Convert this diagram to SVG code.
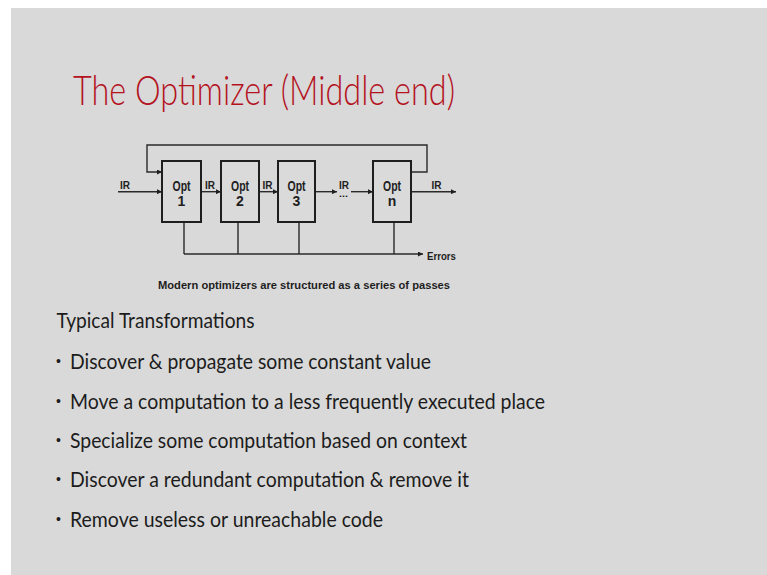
<svg xmlns="http://www.w3.org/2000/svg" width="767" height="575" viewBox="0 0 767 575">
  <style>
    .bg { fill: #d9d9d9; }
    .title { font-family: Lato, "Open Sans", "Liberation Sans", sans-serif; font-weight: 300; font-size: 42px; fill: #b4121d; }
    .body { font-family: Lato, "Open Sans", "Liberation Sans", sans-serif; font-size: 21px; fill: #1c1c1c; }
    .dot { font-family: "Liberation Sans", Arial, sans-serif; font-size: 14px; fill: #1c1c1c; }
    .lbl { font-family: "Liberation Sans Narrow", "Liberation Sans", Arial, sans-serif; font-weight: bold; fill: #1e1e1e; }
    .num { font-size: 14px; text-anchor: middle; }
    .box { fill: #dadada; stroke: #1e1e1e; stroke-width: 2; }
    .wire { fill: none; stroke: #2a2a2a; stroke-width: 1.4; }
  </style>
  <defs>
    <marker id="arr" viewBox="0 0 10 10" refX="10" refY="5" markerWidth="5" markerHeight="5" markerUnits="userSpaceOnUse" orient="auto">
      <path d="M0,0 L10,5 L0,10 Z" fill="#1e1e1e"/>
    </marker>
  </defs>

  <!-- slide background with thin white margin top and left -->
  <rect x="0" y="0" width="767" height="575" fill="#ffffff"/>
  <rect class="bg" x="11" y="8" width="756" height="567"/>

  <text class="title" x="73" y="105" textLength="382" lengthAdjust="spacingAndGlyphs">The Optimizer (Middle end)</text>

  <!-- pass pipeline -->
  <g id="connectors">
    <path class="wire" d="M411,172 H427 V145 H147 V172 H162" marker-end="url(#arr)"/>
    <path class="wire" d="M118,191.7 H162" marker-end="url(#arr)"/>
    <path class="wire" d="M201,191.7 H221" marker-end="url(#arr)"/>
    <path class="wire" d="M259,191.7 H278" marker-end="url(#arr)"/>
    <path class="wire" d="M315,191.7 H337" marker-end="url(#arr)"/>
    <path class="wire" d="M351,191.7 H373" marker-end="url(#arr)"/>
    <path class="wire" d="M411,191.7 H456" marker-end="url(#arr)"/>
    <path class="wire" d="M184,222 V254 M238,222 V254 M299,222 V254 M394,222 V254"/>
    <path class="wire" d="M184,254 H423" marker-end="url(#arr)"/>
    <g class="lbl" font-size="11">
      <text x="120" y="189" textLength="10" lengthAdjust="spacingAndGlyphs">IR</text>
      <text x="205" y="189" textLength="10" lengthAdjust="spacingAndGlyphs">IR</text>
      <text x="262.5" y="189" textLength="10" lengthAdjust="spacingAndGlyphs">IR</text>
      <text x="339" y="188.5" textLength="10" lengthAdjust="spacingAndGlyphs">IR</text>
      <text x="339" y="196.5" font-size="9" textLength="9" lengthAdjust="spacingAndGlyphs">...</text>
      <text x="431.5" y="189" textLength="10" lengthAdjust="spacingAndGlyphs">IR</text>
      <text x="427" y="259.5" textLength="29" lengthAdjust="spacingAndGlyphs">Errors</text>
    </g>
  </g>

  <g id="opt1">
    <rect class="box" x="162" y="161" width="39" height="61"/>
    <text class="lbl" font-size="14" x="172.5" y="190.5" textLength="18" lengthAdjust="spacingAndGlyphs">Opt</text>
    <text class="lbl num" x="181.5" y="206">1</text>
  </g>
  <g id="opt2">
    <rect class="box" x="221" y="161" width="38" height="61"/>
    <text class="lbl" font-size="14" x="231" y="190.5" textLength="18" lengthAdjust="spacingAndGlyphs">Opt</text>
    <text class="lbl num" x="240" y="206">2</text>
  </g>
  <g id="opt3">
    <rect class="box" x="278" y="161" width="37" height="61"/>
    <text class="lbl" font-size="14" x="287.5" y="190.5" textLength="18" lengthAdjust="spacingAndGlyphs">Opt</text>
    <text class="lbl num" x="296.5" y="206">3</text>
  </g>
  <g id="optn">
    <rect class="box" x="373" y="161" width="38" height="61"/>
    <text class="lbl" font-size="14" x="383" y="190.5" textLength="18" lengthAdjust="spacingAndGlyphs">Opt</text>
    <text class="lbl num" x="392" y="206">n</text>
  </g>

  <text class="lbl" font-size="11.5" x="158" y="289" textLength="292" lengthAdjust="spacingAndGlyphs">Modern optimizers are structured as a series of passes</text>

  <!-- transformation list -->
  <text class="body" x="56.5" y="328" textLength="198" lengthAdjust="spacingAndGlyphs">Typical Transformations</text>
  <g class="dot">
    <text x="56" y="366">•</text>
    <text x="56" y="406">•</text>
    <text x="56" y="445">•</text>
    <text x="56" y="484">•</text>
    <text x="56" y="524">•</text>
  </g>
  <g class="body">
    <text x="70" y="369" textLength="361" lengthAdjust="spacingAndGlyphs">Discover &amp; propagate some constant value</text>
    <text x="70" y="409" textLength="475" lengthAdjust="spacingAndGlyphs">Move a computation to a less frequently executed place</text>
    <text x="70" y="448" textLength="397" lengthAdjust="spacingAndGlyphs">Specialize some computation based on context</text>
    <text x="70" y="487" textLength="399" lengthAdjust="spacingAndGlyphs">Discover a redundant computation &amp; remove it</text>
    <text x="70" y="527" textLength="313" lengthAdjust="spacingAndGlyphs">Remove useless or unreachable code</text>
  </g>
</svg>
